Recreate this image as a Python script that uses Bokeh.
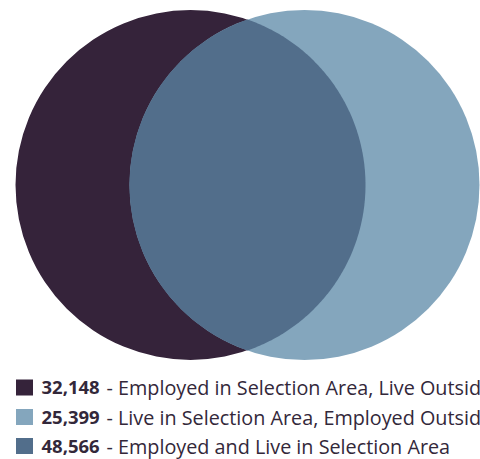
import numpy as np
from bokeh.plotting import figure
from bokeh.models import Range1d, ColumnDataSource
from bokeh.core.properties import value
from bokeh.embed import file_html
from bokeh.resources import INLINE

# ---- data ----
values = [32148, 25399, 48566]
labels = ["Employed in Selection Area, Live Outside",
          "Live in Selection Area, Employed Outside",
          "Employed and Live in Selection Area"]
colors = ["#35233a", "#84a6bd", "#526e8b"]
text_color = "#33283a"

W, H = 480, 459
p = figure(width=W, height=H, output_backend="svg", toolbar_location=None,
           x_range=Range1d(0, W), y_range=Range1d(0, H), min_border=0,
           outline_line_color=None)
p.axis.visible = False
p.grid.visible = False
p.background_fill_color = "white"
p.border_fill_color = "white"

# geometry (layout)
r = 175.0
cy = H - 184.5
c1 = 190.0
c2 = 304.0

p.circle(x=[c1], y=[cy], radius=r, fill_color=colors[0], line_color=None)
p.circle(x=[c2], y=[cy], radius=r, fill_color=colors[1], line_color=None)

# lens (overlap) polygon
d = c2 - c1
a = np.arccos((d / 2) / r)
t1 = np.linspace(np.pi - a, np.pi + a, 200)  # arc of right circle (left side)
t2 = np.linspace(-a, a, 200)                 # arc of left circle (right side)
xs = np.concatenate([c2 + r * np.cos(t1), c1 + r * np.cos(t2)])
ys = np.concatenate([cy + r * np.sin(t1), cy + r * np.sin(t2)])
p.patch(x=xs, y=ys, fill_color=colors[2], line_color=None)

# legend
row_y = [H - 387, H - 416.5, H - 445.5]
src = ColumnDataSource(dict(
    x=[24] * 3, y=row_y, c=colors,
    num=[f"{v:,}" for v in values],
    lab=["- " + l for l in labels],
))
p.rect(x="x", y="y", width=17, height=16, fill_color="c", line_color=None, source=src)
p.text(x=41, y="y", text="num", source=src, text_font=value("Open Sans"),
       text_font_style="bold", text_font_size="18.5px", text_baseline="middle",
       text_color=text_color)
p.text(x=106, y="y", text="lab", source=src, text_font=value("Open Sans"),
       text_font_size="19.8px", text_baseline="middle", text_color=text_color)

open("out.html", "w").write(file_html(p, INLINE))
